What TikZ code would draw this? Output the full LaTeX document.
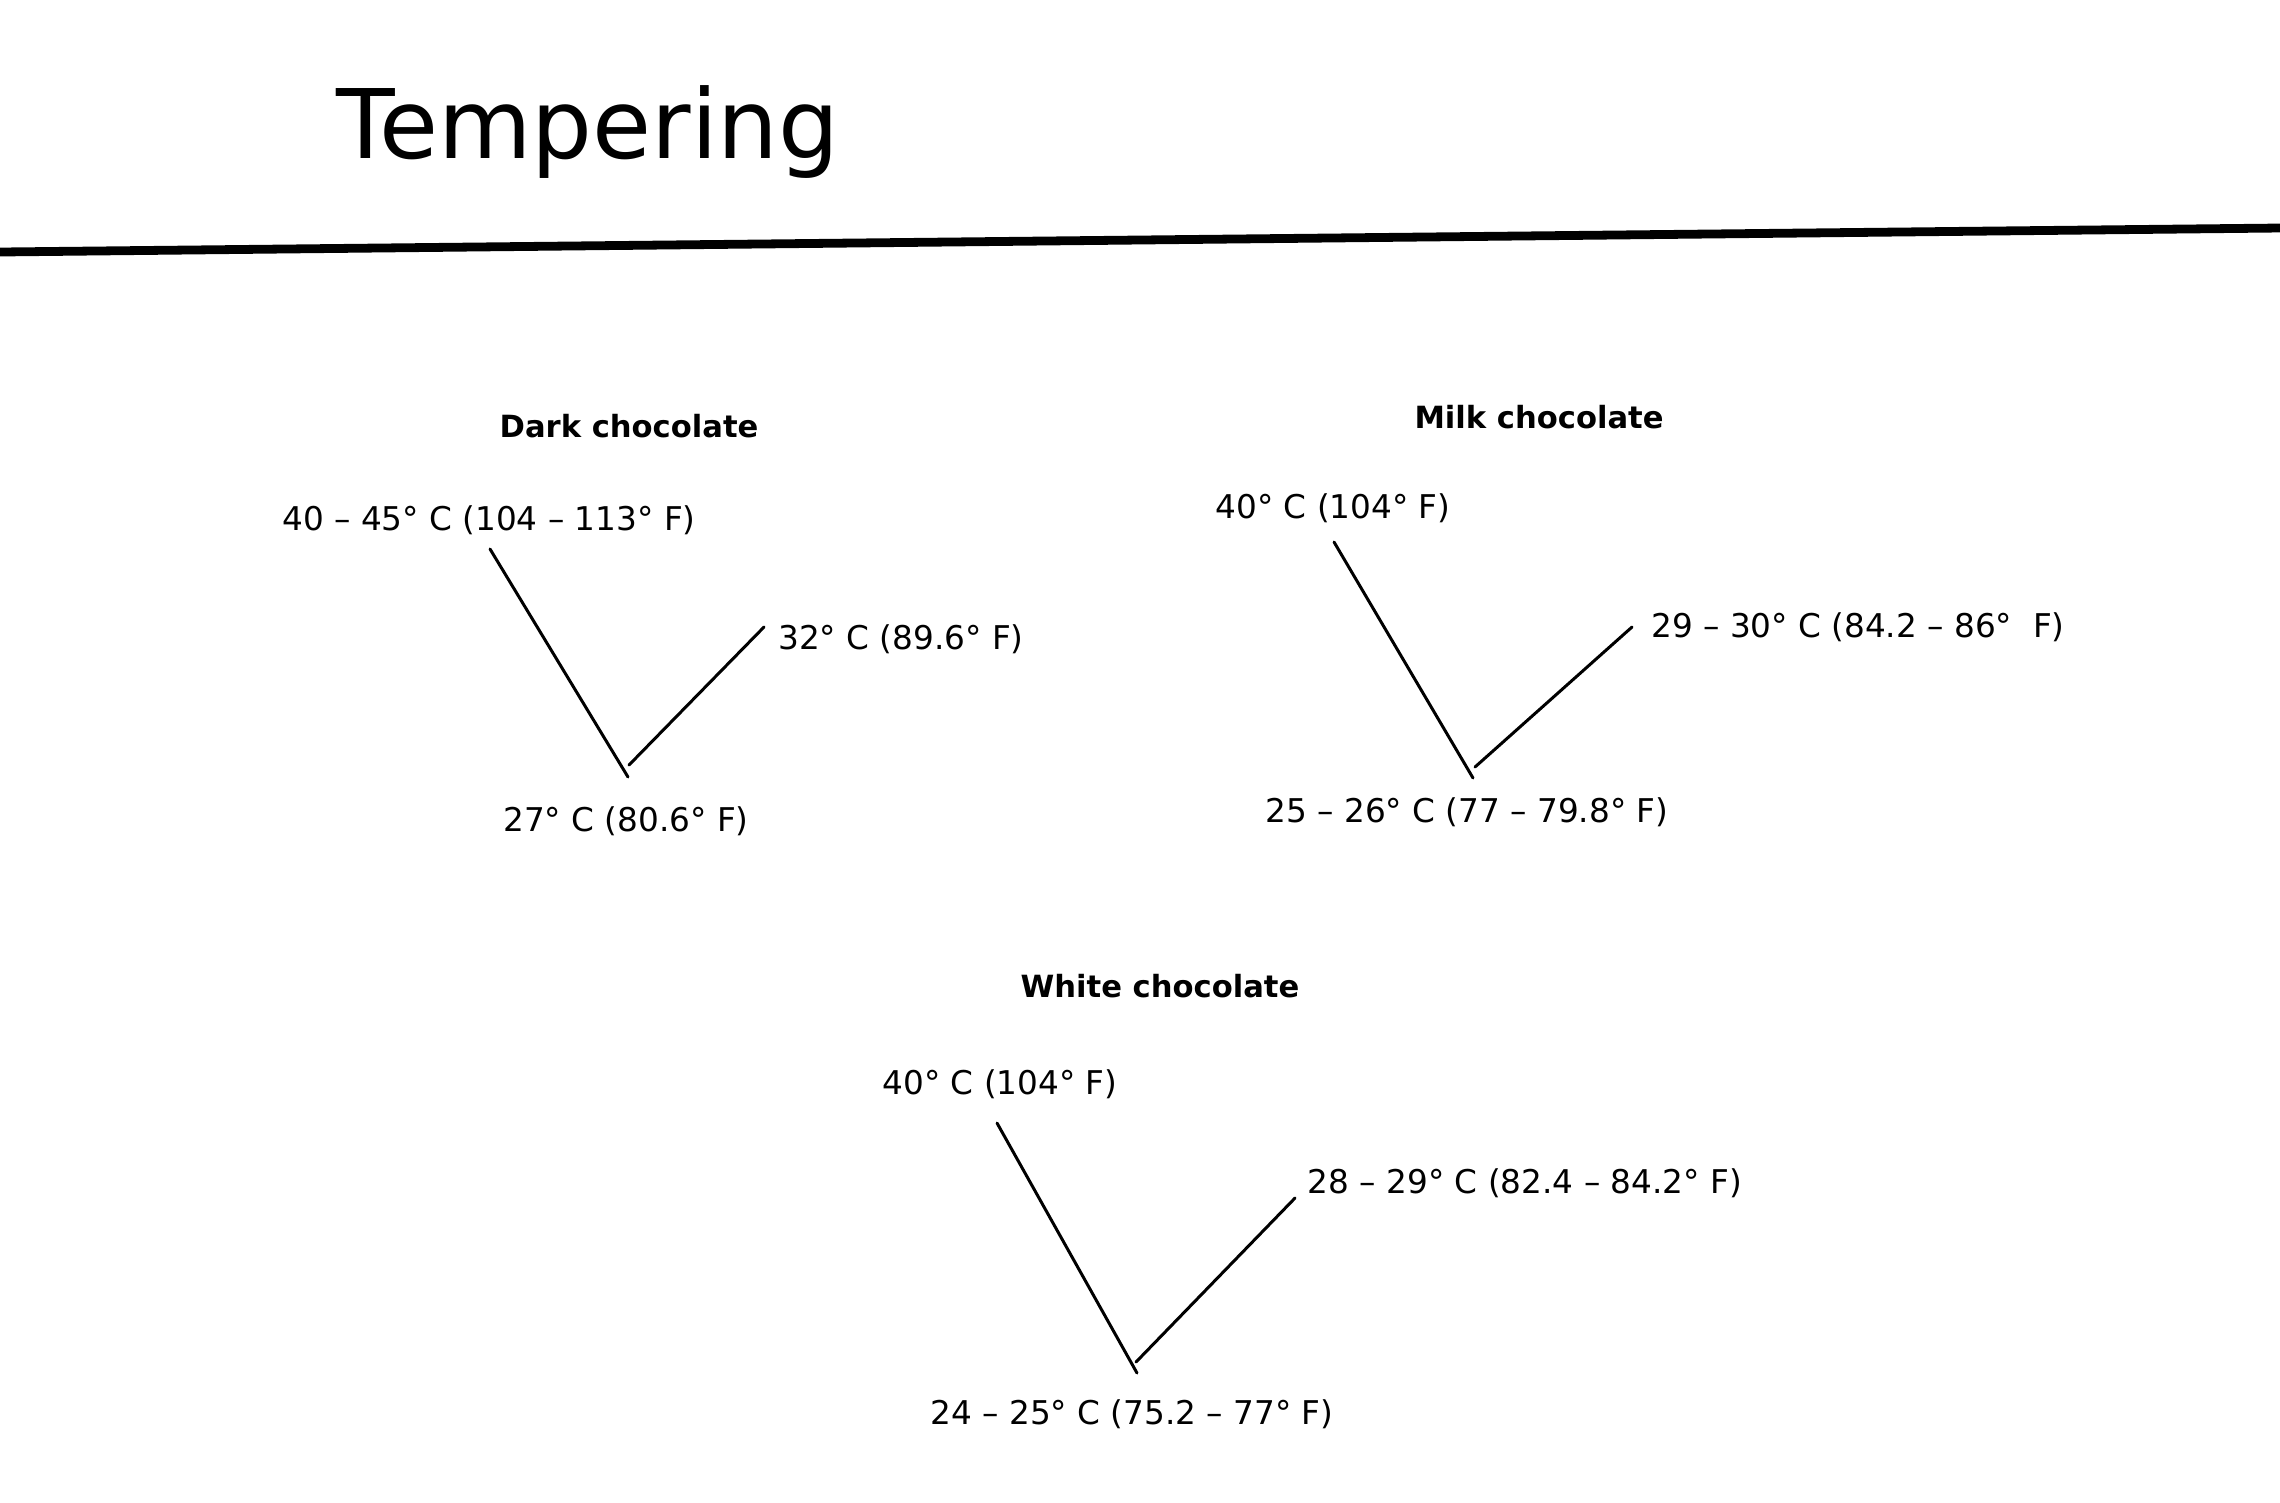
\documentclass[tikz,border=0pt]{standalone}
\usepackage{fontspec}
\setmainfont{DejaVu Sans}
\tikzset{
  head/.style={font=\fontsize{8.7pt}{10pt}\selectfont\bfseries, inner sep=0pt, anchor=base},
  lab/.style={font=\fontsize{9.3pt}{11pt}\selectfont, inner sep=0pt, anchor=base},
  vline/.style={line width=0.85pt, line cap=round}
}
\begin{document}
\begin{tikzpicture}[x=0.01cm, y=-0.01cm]
\useasboundingbox (0,0) rectangle (2280,1502);
\fill[white] (0,0) rectangle (2280,1502);
% title and rule
\node[font=\fontsize{27.3pt}{31pt}\selectfont, inner sep=0pt, anchor=base west] (title) at (336,158) {Tempering};
\coordinate (ruleL) at (0,252);
\coordinate (ruleR) at (2280,228);
\draw[line width=2.5pt] (ruleL) -- (ruleR);
% Dark chocolate
\node[head] (dh) at (629,437) {Dark chocolate};
\node[lab] (d1) at (489,530) {40 – 45° C (104 – 113° F)};
\node[lab] (d2) at (901,649) {32° C (89.6° F)};
\node[lab] (d3) at (626,831) {27° C (80.6° F)};
\coordinate (d1a) at (490,549);
\coordinate (d1b) at (628,777);
\coordinate (d2a) at (629,765);
\coordinate (d2b) at (764,627);
\draw[vline] (d1a) -- (d1b);
\draw[vline] (d2a) -- (d2b);
% Milk chocolate
\node[head] (mh) at (1539,428) {Milk chocolate};
\node[lab] (m1) at (1333,518) {40° C (104° F)};
\node[lab] (m2) at (1858,637) {29 – 30° C (84.2 – 86°\ \ F)};
\node[lab] (m3) at (1467,822) {25 – 26° C (77 – 79.8° F)};
\coordinate (m1a) at (1334,542);
\coordinate (m1b) at (1473,778);
\coordinate (m2a) at (1475,767);
\coordinate (m2b) at (1632,627);
\draw[vline] (m1a) -- (m1b);
\draw[vline] (m2a) -- (m2b);
% White chocolate
\node[head] (wh) at (1160,997) {White chocolate};
\node[lab] (w1) at (1000,1094) {40° C (104° F)};
\node[lab] (w2) at (1525,1193) {28 – 29° C (82.4 – 84.2° F)};
\node[lab] (w3) at (1132,1424) {24 – 25° C (75.2 – 77° F)};
\coordinate (w1a) at (997,1123);
\coordinate (w1b) at (1137,1373);
\coordinate (w2a) at (1136,1362);
\coordinate (w2b) at (1295,1198);
\draw[vline] (w1a) -- (w1b);
\draw[vline] (w2a) -- (w2b);
\end{tikzpicture}
\end{document}
